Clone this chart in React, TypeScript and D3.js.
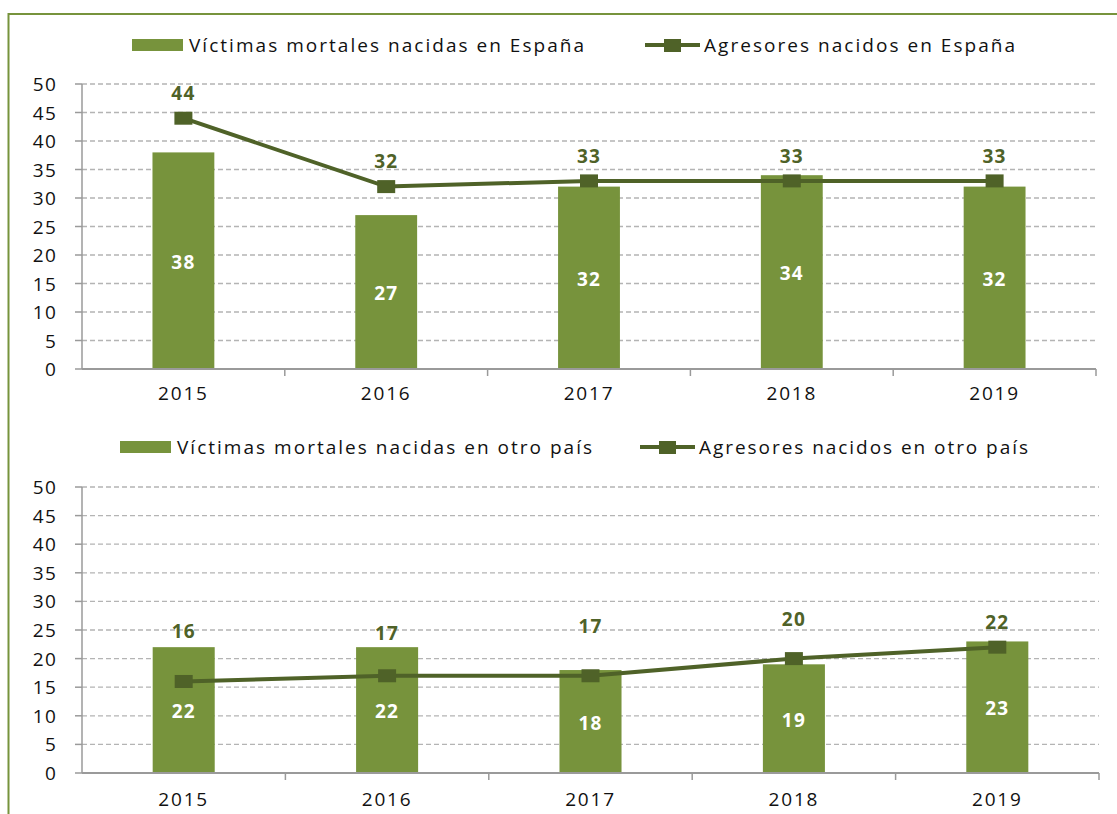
import { scaleBand, scaleLinear, line } from 'd3'

const width = 1117
const height = 814

const years = ['2015', '2016', '2017', '2018', '2019']
const yTicks = [0, 5, 10, 15, 20, 25, 30, 35, 40, 45, 50]

// Spain
const victimasEspana = [38, 27, 32, 34, 32]
const agresoresEspana = [44, 32, 33, 33, 33]
const labelEspana = [48.4, 36.5, 37.4, 37.4, 37.4]

// other country
const victimasOtro = [22, 22, 18, 19, 23]
const agresoresOtro = [16, 17, 17, 20, 22]
const labelOtro = [24.8, 24.5, 25.7, 26.9, 26.4]

const barColor = '#77933c'
const lineColor = '#4f6228'
const font = '"Open Sans", "Noto Sans", sans-serif'

type PanelProps = {
  bars: number[]
  lineVals: number[]
  labelVals: number[]
  y0: number
  y50: number
  xEnd: number
  legendY: number
  barLegendX: number
  barLabel: string
  barLabelLen: number
  lineLegendX: number
  lineLabel: string
  lineLabelLen: number
  yearY: number
}

function Panel(p: PanelProps) {
  const left = 82
  const x = scaleBand<string>()
    .domain(years)
    .range([left, p.xEnd])
    .paddingInner(0.695)
    .paddingOuter(0.3475)
  const y = scaleLinear().domain([0, 50]).range([p.y0, p.y50])
  const cx = (d: string) => (x(d) as number) + x.bandwidth() / 2
  const step = x.step()

  const path = line<number>()
    .x((_, i) => cx(years[i]))
    .y((d) => y(d))(p.lineVals)

  return (
    <g>
      {/* legend */}
      <rect x={p.barLegendX} y={p.legendY - 6} width={51} height={12} fill={barColor} />
      <text
        x={p.barLegendX + 57}
        y={p.legendY + 7}
        fontSize={19}
        fontFamily={font}
        fill="#111"
        textLength={p.barLabelLen}
        lengthAdjust="spacing"
      >
        {p.barLabel}
      </text>
      <line
        x1={p.lineLegendX}
        x2={p.lineLegendX + 55}
        y1={p.legendY}
        y2={p.legendY}
        stroke={lineColor}
        strokeWidth={4}
      />
      <rect x={p.lineLegendX + 19} y={p.legendY - 6} width={17} height={13} fill={lineColor} />
      <text
        x={p.lineLegendX + 59}
        y={p.legendY + 7}
        fontSize={19}
        fontFamily={font}
        fill="#111"
        textLength={p.lineLabelLen}
        lengthAdjust="spacing"
      >
        {p.lineLabel}
      </text>

      {/* grid */}
      {yTicks.filter((t) => t > 0).map((t) => (
        <line
          key={'g' + t}
          x1={left}
          x2={p.xEnd}
          y1={y(t)}
          y2={y(t)}
          stroke="#b4b4b4"
          strokeWidth={1.3}
          strokeDasharray="5 3"
        />
      ))}

      {/* y axis */}
      <line x1={left} x2={left} y1={y(50)} y2={y(0)} stroke="#9a9a9a" strokeWidth={1.5} />
      {yTicks.map((t) => (
        <g key={'t' + t}>
          <line x1={left - 7} x2={left} y1={y(t)} y2={y(t)} stroke="#9a9a9a" strokeWidth={1.5} />
          <text
            x={57}
            y={y(t) + 7}
            textAnchor="end"
            fontSize={19}
            fontFamily={font}
            letterSpacing={1.2}
            fill="#111"
          >
            {t}
          </text>
        </g>
      ))}

      {/* bars */}
      {p.bars.map((v, i) => (
        <rect
          key={'b' + i}
          x={x(years[i])}
          y={y(v)}
          width={x.bandwidth()}
          height={y(0) - y(v)}
          fill={barColor}
        />
      ))}

      {/* x axis */}
      <line x1={left} x2={p.xEnd} y1={y(0)} y2={y(0)} stroke="#9a9a9a" strokeWidth={2} />
      {years.map((d, i) => (
        <line
          key={'xt' + i}
          x1={left + step * (i + 1)}
          x2={left + step * (i + 1)}
          y1={y(0)}
          y2={y(0) + 7}
          stroke="#9a9a9a"
          strokeWidth={1.5}
        />
      ))}
      {years.map((d) => (
        <text
          key={'yl' + d}
          x={cx(d)}
          y={p.yearY}
          textAnchor="middle"
          fontSize={19}
          fontFamily={font}
          letterSpacing={1.8}
          fill="#111"
        >
          {d}
        </text>
      ))}

      {/* bar labels */}
      {p.bars.map((v, i) => (
        <text
          key={'bl' + i}
          x={cx(years[i])}
          y={(y(v) + y(0)) / 2 + 8}
          textAnchor="middle"
          fontSize={19}
          fontWeight="bold"
          fontFamily={font}
          letterSpacing={1.2}
          fill="#fff"
        >
          {v}
        </text>
      ))}

      {/* line */}
      <path d={path as string} fill="none" stroke={lineColor} strokeWidth={4} />
      {p.lineVals.map((v, i) => (
        <rect
          key={'m' + i}
          x={cx(years[i]) - 9}
          y={y(v) - 6.5}
          width={18}
          height={13}
          fill={lineColor}
        />
      ))}
      {p.lineVals.map((v, i) => (
        <text
          key={'ll' + i}
          x={cx(years[i])}
          y={y(p.labelVals[i]) + 7}
          textAnchor="middle"
          fontSize={19}
          fontWeight="bold"
          fontFamily={font}
          letterSpacing={1.2}
          fill={lineColor}
        >
          {v}
        </text>
      ))}
    </g>
  )
}

function App() {
  return (
    <svg
      width={width}
      height={height}
      style={{ position: 'absolute', left: 0, top: 0, background: '#fff' }}
    >
      <rect width={width} height={height} fill="#fff" />
      <line x1={8.5} x2={width} y1={14} y2={14} stroke={barColor} strokeWidth={2} />
      <line x1={8.5} x2={8.5} y1={13} y2={height} stroke={barColor} strokeWidth={2} />

      <Panel
        bars={victimasEspana}
        lineVals={agresoresEspana}
        labelVals={labelEspana}
        y0={369}
        y50={84}
        xEnd={1096}
        legendY={45}
        barLegendX={132}
        barLabel="Víctimas mortales nacidas en España"
        barLabelLen={395}
        lineLegendX={645}
        lineLabel="Agresores nacidos en España"
        lineLabelLen={311}
        yearY={400}
      />
      <Panel
        bars={victimasOtro}
        lineVals={agresoresOtro}
        labelVals={labelOtro}
        y0={773}
        y50={487}
        xEnd={1099}
        legendY={447}
        barLegendX={120}
        barLabel="Víctimas mortales nacidas en otro país"
        barLabelLen={415}
        lineLegendX={640}
        lineLabel="Agresores nacidos en otro país"
        lineLabelLen={329}
        yearY={806}
      />
    </svg>
  )
}

export default App
